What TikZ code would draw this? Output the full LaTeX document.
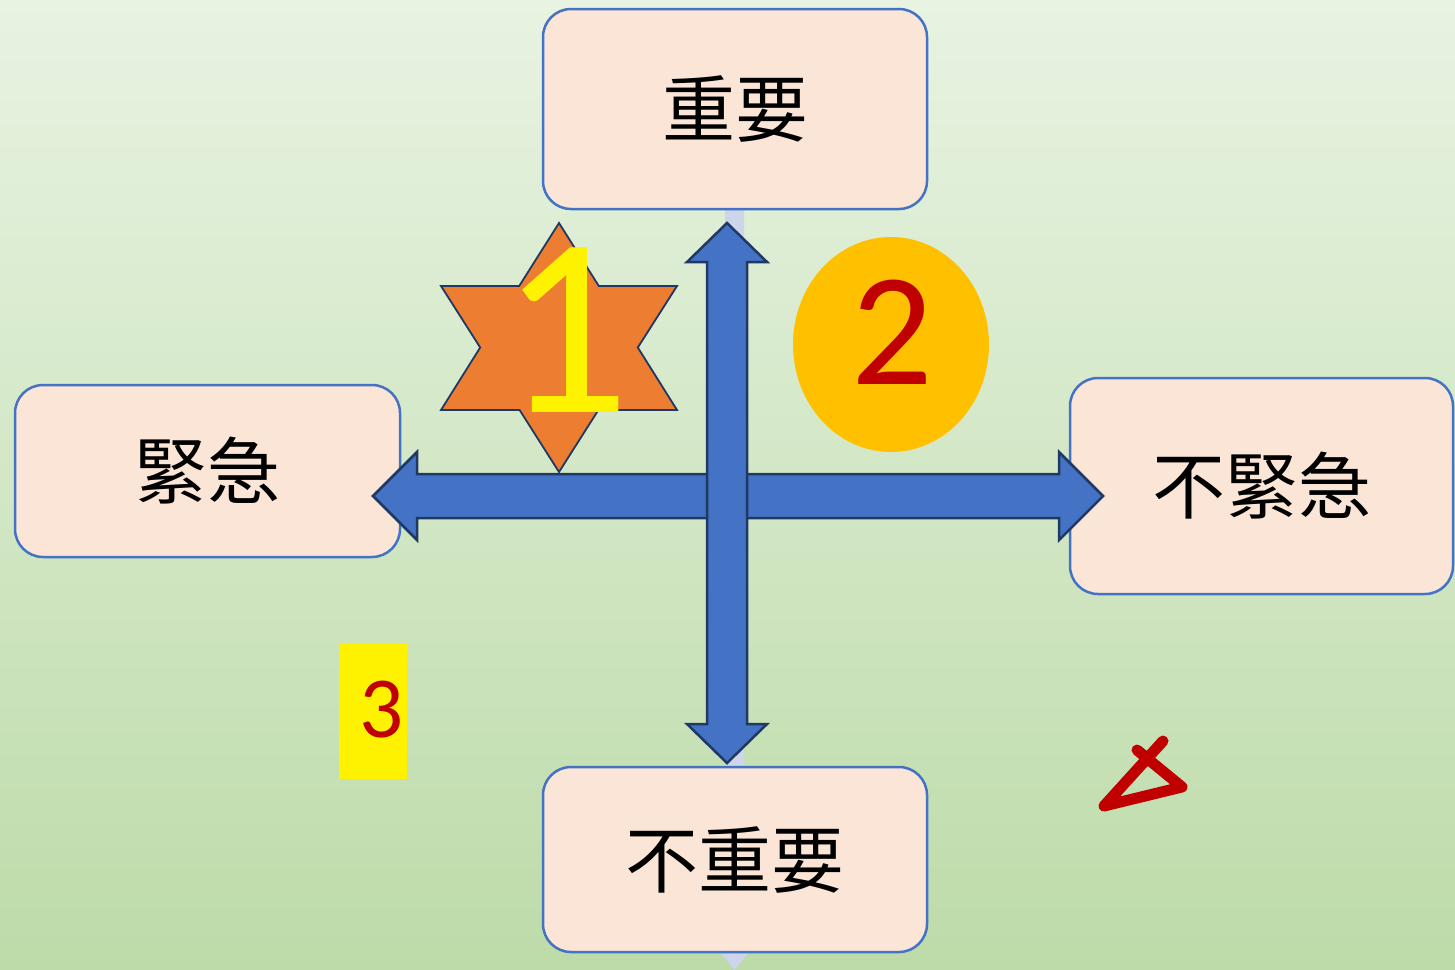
\documentclass[tikz,border=0pt]{standalone}
\usepackage{fontspec}
\setmainfont{Carlito}
\newfontfamily\cjk{Noto Sans CJK TC}
\definecolor{boxfill}{HTML}{FBE5D6}
\definecolor{boxline}{HTML}{4472C4}
\definecolor{arrfill}{HTML}{4472C4}
\definecolor{arrline}{HTML}{1F3864}
\definecolor{pale}{HTML}{CDD5EA}
\definecolor{starfill}{HTML}{ED7D31}
\definecolor{gold}{HTML}{FFC000}
\definecolor{darkred}{HTML}{C00000}
\definecolor{bgtop}{HTML}{E8F3E2}
\definecolor{bgbot}{HTML}{BDDBA9}
\begin{document}
\begin{tikzpicture}[x=1pt,y=-1pt,
  box/.style={draw=boxline, line width=2.5pt, fill=boxfill, rounded corners=28pt, inner sep=0pt},
  cjktext/.style={font=\cjk\fontsize{73}{80}\selectfont},
  bigarrow/.style={fill=arrfill, draw=arrline, line width=2.5pt, line join=miter}]
\useasboundingbox (0,0) rectangle (1455,969);
\shade[top color=bgtop, bottom color=bgbot] (0,0) rectangle (1455,969);
% pale arrow behind
\fill[pale] (725,209) -- (744,209) -- (744,942) -- (757,942) -- (734.5,970) -- (712,942) -- (725,942) -- cycle;
% boxes
\node[box, minimum width=384pt, minimum height=200pt] (imp) at (735,109) {};
\node[cjktext] at (imp.center) {重要};
\node[box, minimum width=385pt, minimum height=172pt] (urg) at (207.5,471) {};
\node[cjktext] at (urg.center) {緊急};
\node[box, minimum width=383pt, minimum height=216pt] (nurg) at (1261.5,486) {};
\node[cjktext] at (nurg.center) {不緊急};
\node[box, minimum width=384pt, minimum height=185pt] (nimp) at (735,859.5) {};
\node[cjktext] at (nimp.center) {不重要};
% star
\begin{scope}[shift={(559,347.5)}]
\draw[fill=starfill, draw=arrline, line width=1.8pt, line join=miter]
  (0,-124.5) -- (39.8,-61.5) -- (118,-61.5) -- (78.8,0) -- (118,62.5) -- (39.4,62.5)
  -- (0,124.5) -- (-39.4,62.5) -- (-118,62.5) -- (-78.8,0) -- (-118,-61.5) -- (-39.8,-61.5) -- cycle;
\end{scope}
\node[anchor=base, text=yellow, font=\fontsize{256}{256}\selectfont, inner sep=0pt] (one) at (565,412) {1};
% horizontal arrow
\draw[bigarrow] (373,496) -- (417,452) -- (417,474) -- (1059,474) -- (1059,452) -- (1103,496)
  -- (1059,540) -- (1059,518) -- (417,518) -- (417,540) -- cycle;
% vertical arrow
\draw[bigarrow] (727,223) -- (767,262) -- (747,262) -- (747,724) -- (767,724) -- (727,763)
  -- (687,724) -- (707,724) -- (707,262) -- (687,262) -- cycle;
% ellipse 2
\fill[gold] (891,344.5) ellipse [x radius=98, y radius=107.5];
\node[anchor=base, text=darkred, font=\fontsize{161}{161}\selectfont, inner sep=0pt] (two) at (892,384) {2};
% yellow rect 3
\fill[yellow] (339,644) rectangle (407,779);
\node[anchor=base, text=darkred, font=\fontsize{87}{87}\selectfont, inner sep=0pt] (three) at (382,737) {3};
% red mark
\draw[darkred, line width=11pt, line cap=round, line join=round]
  (1163,741) -- (1104,806) -- (1182,787) -- (1137,750);
\end{tikzpicture}
\end{document}
